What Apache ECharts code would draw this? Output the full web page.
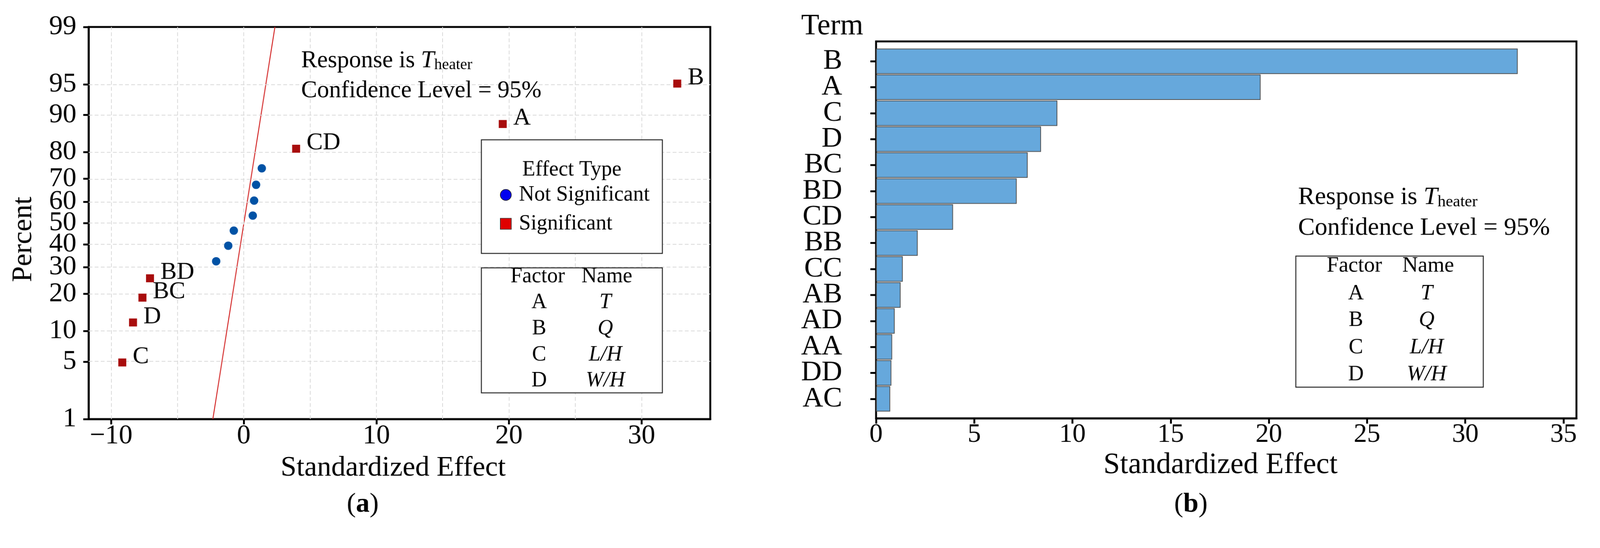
<!DOCTYPE html>
<html>
<head>
<meta charset="utf-8">
<script src="https://cdn.jsdelivr.net/npm/echarts@6/dist/echarts.min.js"></script>
<style>
html,body{margin:0;padding:0;background:#fff;overflow:hidden;}
#chart{width:4208px;height:1404px;transform-origin:0 0;}
</style>
</head>
<body>
<div id="chart"></div>
<script>
// ---------- Data: (a) normal plot of standardized effects ----------
const sigTerms   = ['C', 'D', 'BC', 'BD', 'CD', 'A', 'B'];
const sigEffect  = [-9.16, -8.35, -7.64, -7.07, 3.95, 19.53, 32.69];
const sigPercent = [4.9, 11.9, 18.8, 25.6, 81.1, 88.0, 95.1];
const nsEffect   = [-2.08, -1.17, -0.75, 0.68, 0.78, 0.93, 1.36];
const nsPercent  = [32.5, 39.4, 46.4, 53.5, 60.5, 67.5, 74.2];
const refLineEffect  = [-2.33, 2.35];
const refLinePercent = [1, 99];
const percentTicks = [1, 5, 10, 20, 30, 40, 50, 60, 70, 80, 90, 95, 99];
const effectTicksA = [-10, 0, 10, 20, 30];
const effectGridA  = [-10, -5, 0, 5, 10, 15, 20, 25, 30];

// ---------- Data: (b) Pareto-style bar chart ----------
const terms   = ['B', 'A', 'C', 'D', 'BC', 'BD', 'CD', 'BB', 'CC', 'AB', 'AD', 'AA', 'DD', 'AC'];
const effects = [32.67, 19.58, 9.23, 8.40, 7.72, 7.16, 3.92, 2.12, 1.36, 1.25, 0.95, 0.82, 0.78, 0.72];

// ---------- Factor table ----------
const factors     = ['A', 'B', 'C', 'D'];
const factorNames = ['T', 'Q', 'L/H', 'W/H'];

// fit the 4208x1404 drawing into the actual viewport
(function () {
  const W = 4208, H = 1404;
  const vw = window.innerWidth || document.documentElement.clientWidth || W;
  const vh = window.innerHeight || document.documentElement.clientHeight || H;
  const s = Math.min(vw / W, vh / H);
  if (s > 0 && Math.abs(s - 1) > 0.002) {
    document.getElementById('chart').style.transform = 'scale(' + s + ')';
  }
})();

// inverse standard normal CDF (Acklam)
function probit(p) {
  const a = [-3.969683028665376e+01, 2.209460984245205e+02, -2.759285104469687e+02, 1.383577518672690e+02, -3.066479806614716e+01, 2.506628277459239e+00];
  const b = [-5.447609879822406e+01, 1.615858368580409e+02, -1.556989798598866e+02, 6.680131188771972e+01, -1.328068155288572e+01];
  const c = [-7.784894002430293e-03, -3.223964580411365e-01, -2.400758277161838e+00, -2.549671010998529e+00, 4.374664141464968e+00, 2.938163982698783e+00];
  const d = [7.784695709041462e-03, 3.224671290700398e-01, 2.445134137142996e+00, 3.754408661907416e+00];
  const pl = 0.02425, ph = 1 - pl;
  let q, r;
  if (p < pl) {
    q = Math.sqrt(-2 * Math.log(p));
    return (((((c[0]*q+c[1])*q+c[2])*q+c[3])*q+c[4])*q+c[5]) / ((((d[0]*q+d[1])*q+d[2])*q+d[3])*q+1);
  }
  if (p <= ph) {
    q = p - 0.5; r = q * q;
    return (((((a[0]*r+a[1])*r+a[2])*r+a[3])*r+a[4])*r+a[5])*q / (((((b[0]*r+b[1])*r+b[2])*r+b[3])*r+b[4])*r+1);
  }
  q = Math.sqrt(-2 * Math.log(1 - p));
  return -(((((c[0]*q+c[1])*q+c[2])*q+c[3])*q+c[4])*q+c[5]) / ((((d[0]*q+d[1])*q+d[2])*q+d[3])*q+1);
}
const z = p => probit(p / 100);
const percentTickZ = percentTicks.map(z);

const FONT = '"Liberation Serif", "Times New Roman", serif';
const chart = echarts.init(document.getElementById('chart'), null, {renderer: 'canvas', width: 4208, height: 1404});

function txt(x, y, text, size, opts) {
  return Object.assign({
    type: 'text', x: x, y: y, silent: true, z: 100,
    style: Object.assign({
      text: text, font: size + 'px ' + FONT, fill: '#000',
      textAlign: 'center', textVerticalAlign: 'middle'
    }, (opts && opts.style) || {})
  }, opts && opts.rotation !== undefined ? {rotation: opts.rotation} : {});
}

const graphics = [];
// axis titles
graphics.push(txt(62, 630, 'Percent', 75, {rotation: Math.PI / 2}));
graphics.push(txt(1034, 1232, 'Standardized Effect', 75));
graphics.push(txt(3210, 1225, 'Standardized Effect', 78));
graphics.push(txt(2107, 70, 'Term', 78, {style: {textAlign: 'left'}}));
// panel labels
graphics.push({type: 'text', x: 954, y: 1328, silent: true, style: {
  text: '{p|(}{b|a}{p|)}', textAlign: 'center', textVerticalAlign: 'middle',
  rich: {p: {fontSize: 72, fontFamily: FONT}, b: {fontSize: 72, fontFamily: FONT, fontWeight: 'bold'}}
}});
graphics.push({type: 'text', x: 3132, y: 1328, silent: true, style: {
  text: '{p|(}{b|b}{p|)}', textAlign: 'center', textVerticalAlign: 'middle',
  rich: {p: {fontSize: 72, fontFamily: FONT}, b: {fontSize: 72, fontFamily: FONT, fontWeight: 'bold'}}
}});

// response annotations
function responseText(x, y1, y2, size) {
  const sub = Math.round(size * 0.65);
  graphics.push({type: 'text', x: x, y: y1, silent: true, z: 100, style: {
    text: '{n|Response is }{i|T}{s|heater}', textAlign: 'left', textVerticalAlign: 'middle',
    rich: {
      n: {fontSize: size, fontFamily: FONT, lineHeight: size},
      i: {fontSize: size, fontFamily: FONT, fontStyle: 'italic', lineHeight: size},
      s: {fontSize: sub, fontFamily: FONT, lineHeight: Math.round(size * 0.42), verticalAlign: 'bottom'}
    }
  }});
  graphics.push(txt(x, y2, 'Confidence Level = 95%', size, {style: {textAlign: 'left'}}));
}
responseText(792, 160, 239, 63);
responseText(3414, 520, 601, 66);

// effect type legend box (a)
graphics.push({type: 'rect', z: 90, silent: true, shape: {x: 1266, y: 368, width: 476, height: 299},
  style: {fill: '#fff', stroke: '#222', lineWidth: 2.5}});
graphics.push(txt(1504, 447, 'Effect Type', 56));

// factor tables
function factorTable(bx, by, bw, bh, c1, c2, headY, rowY, size) {
  graphics.push({type: 'rect', z: 90, silent: true, shape: {x: bx, y: by, width: bw, height: bh},
    style: {fill: '#fff', stroke: '#222', lineWidth: 2.5}});
  graphics.push(txt(c1 - 4, headY, 'Factor', size));
  graphics.push(txt(c2 + 4, headY, 'Name', size));
  factors.forEach((f, i) => {
    graphics.push(txt(c1, rowY[i], f, size));
    graphics.push(txt(c2, rowY[i], factorNames[i], size, {style: {font: 'italic ' + size + 'px ' + FONT}}));
  });
}
factorTable(1266, 705, 476, 329, 1418, 1592, 728, [796, 865, 934, 1002], 56);
factorTable(3408, 674, 493, 345, 3566, 3752, 700, [773, 843, 915, 986], 57);

const axisBlack = {show: true, onZero: false, lineStyle: {color: '#000', width: 5}};
const gridLineStyle = {color: '#d9d9d9', width: 2, type: [10, 6]};

const option = {
  animation: false,
  backgroundColor: '#fff',
  textStyle: {fontFamily: FONT},
  grid: [
    {left: 233, top: 71, width: 1635, height: 1032, show: true, borderColor: '#000', borderWidth: 5,
     backgroundColor: 'transparent', containLabel: false, outerBoundsMode: 'none'},
    {left: 2304, top: 109, width: 1842, height: 992, show: true, borderColor: '#000', borderWidth: 5,
     backgroundColor: 'transparent', containLabel: false, outerBoundsMode: 'none'},
    {left: 2304, top: 127, width: 1842, height: 957, show: false, containLabel: false, outerBoundsMode: 'none'}
  ],
  xAxis: [
    {gridIndex: 0, type: 'value', min: -11.70, max: 35.18,
     axisLine: axisBlack, splitLine: {show: false},
     axisTick: {show: true, inside: false, length: 14, lineStyle: {color: '#000', width: 5}, customValues: effectTicksA},
     axisLabel: {show: true, customValues: effectTicksA, fontSize: 72, fontFamily: FONT, color: '#000', margin: 9,
       formatter: v => v < 0 ? '\u2212' + Math.abs(v) : String(v)}},
    {gridIndex: 1, type: 'value', min: 0, max: 35.66, interval: 5,
     axisLine: axisBlack, splitLine: {show: false},
     axisTick: {show: true, inside: false, length: 14, lineStyle: {color: '#000', width: 5}},
     axisLabel: {show: true, fontSize: 70, fontFamily: FONT, color: '#000', margin: 9, showMaxLabel: false, showMinLabel: true}},
    {gridIndex: 2, type: 'value', min: 0, max: 35.66, show: false}
  ],
  yAxis: [
    {gridIndex: 0, type: 'value', min: z(1), max: z(99),
     axisLine: axisBlack, splitLine: {show: false},
     axisTick: {show: true, inside: false, length: 14, lineStyle: {color: '#000', width: 5}, customValues: percentTickZ},
     axisLabel: {show: true, customValues: percentTickZ, fontSize: 72, fontFamily: FONT, color: '#000', margin: 32,
       formatter: v => {
         let best = 0, bd = 1e9;
         percentTickZ.forEach((t, i) => { const dd = Math.abs(t - v); if (dd < bd) { bd = dd; best = i; } });
         return String(percentTicks[best]);
       }}},
    {gridIndex: 1, type: 'value', min: 0, max: 1, show: false},
    {gridIndex: 2, type: 'category', data: terms, inverse: true,
     axisLine: {show: false, onZero: false},
     axisTick: {show: true, alignWithLabel: true, inside: false, length: 15, lineStyle: {color: '#000', width: 5}},
     axisLabel: {show: true, fontSize: 75, fontFamily: FONT, color: '#000', margin: 89, interval: 0},
     splitLine: {show: false}}
  ],
  legend: {
    show: true, orient: 'vertical', left: 1310, top: 480,
    itemWidth: 29, itemHeight: 29, itemGap: 20,
    textStyle: {fontSize: 56, fontFamily: FONT, color: '#000', lineHeight: 56, padding: [0, 0, 0, 15]},
    selectedMode: false, z: 95,
    data: [
      {name: 'Not Significant', icon: 'circle', itemStyle: {color: '#0000F0', borderColor: '#1a1a1a', borderWidth: 1.5, opacity: 1}},
      {name: 'Significant', icon: 'rect', itemStyle: {color: '#E00000', borderColor: '#333', borderWidth: 1.5, opacity: 1}}
    ]
  },
  series: [
    {
      name: 'grid', type: 'line', xAxisIndex: 0, yAxisIndex: 0, data: [], z: 1, silent: true,
      markLine: {
        silent: true, symbol: ['none', 'none'], label: {show: false}, lineStyle: gridLineStyle,
        data: effectGridA.map(v => ({xAxis: v})).concat(
          percentTicks.filter(p => p > 1 && p < 99).map(p => ({yAxis: z(p)})))
      }
    },
    {
      name: 'Reference', type: 'line', xAxisIndex: 0, yAxisIndex: 0, z: 2, silent: true,
      symbol: 'none', lineStyle: {color: '#D42A2A', width: 2.5},
      data: refLineEffect.map((x, i) => [x, z(refLinePercent[i])])
    },
    {
      name: 'Not Significant', type: 'scatter', xAxisIndex: 0, yAxisIndex: 0, z: 5,
      symbol: 'circle', symbolSize: 22, itemStyle: {color: '#0052A5', opacity: 1},
      data: nsEffect.map((x, i) => [x, z(nsPercent[i])])
    },
    {
      name: 'Significant', type: 'scatter', xAxisIndex: 0, yAxisIndex: 0, z: 5,
      symbol: 'rect', symbolSize: 21, itemStyle: {color: '#A80D0D', opacity: 1},
      data: sigEffect.map((x, i) => ({value: [x, z(sigPercent[i])], name: sigTerms[i]})),
      label: {show: true, position: 'right', distance: 17, offset: [0, -15],
        formatter: p => p.name, fontSize: 64, fontFamily: FONT, color: '#000'}
    },
    {
      name: 'Effect', type: 'bar', xAxisIndex: 2, yAxisIndex: 2, z: 5,
      barCategoryGap: '2%',
      itemStyle: {color: '#66A8DC', borderColor: '#505050', borderWidth: 2, opacity: 1},
      data: effects
    }
  ],
  graphic: {elements: graphics}
};
chart.setOption(option);
</script>
</body>
</html>
